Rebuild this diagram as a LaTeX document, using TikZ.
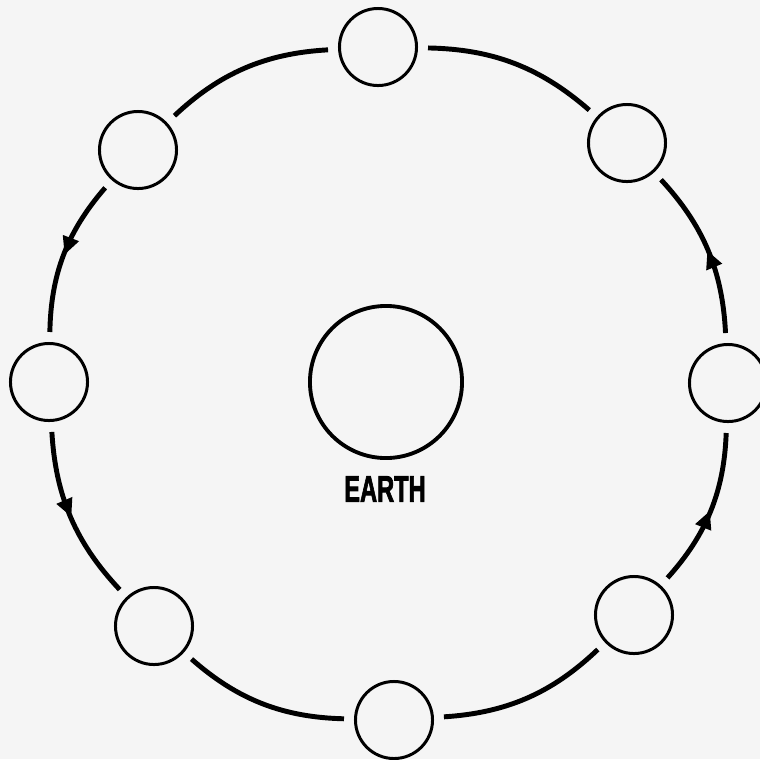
\documentclass[tikz,border=0pt]{standalone}
\usepackage{fontspec}
\usepackage{graphicx}
\setmainfont{Liberation Sans}
\usetikzlibrary{decorations.markings,arrows.meta}
\begin{document}
\begin{tikzpicture}[x=0.01cm,y=0.01cm,
  moon/.style={circle,draw=black,line width=0.85pt,minimum size=0.77cm,inner sep=0pt},
  planet/.style={circle,draw=black,line width=1.1pt,minimum size=1.52cm,inner sep=0pt},
  orbit/.style={line width=1.4pt,shorten >=0.1cm,shorten <=0.1cm,bend right=20},
  flow/.style={postaction={decorate},decoration={markings,
      mark=at position 0.5 with {\arrow{Triangle[length=0.18cm,width=0.16cm]}}}}]
\fill[black!4] (0,0) rectangle (760,759);
\useasboundingbox (0,0) rectangle (760,759);
\node[moon] (t)  at (378,712) {};
\node[moon] (tr) at (627,616) {};
\node[moon] (r)  at (728,376) {};
\node[moon] (br) at (634,144) {};
\node[moon] (b)  at (394,39) {};
\node[moon] (bl) at (154,133) {};
\node[moon] (l)  at (49,377) {};
\node[moon] (tl) at (138,609) {};
\node[planet] (earth) at (386,377) {};
\node (lbl) at (385,270) {\fontsize{10.5}{12}\selectfont\bfseries\addfontfeature{FakeBold=2.5}\scalebox{0.64}[1]{EARTH}};
\draw[orbit] (t) to (tl);
\draw[orbit,flow] (tl) to (l);
\draw[orbit,flow] (l) to (bl);
\draw[orbit] (bl) to (b);
\draw[orbit] (b) to (br);
\draw[orbit,flow] (br) to (r);
\draw[orbit,flow] (r) to (tr);
\draw[orbit] (tr) to (t);
\end{tikzpicture}
\end{document}
